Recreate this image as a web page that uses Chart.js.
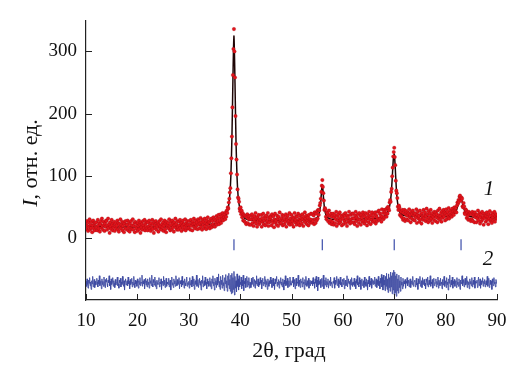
<!DOCTYPE html>
<html>
<head>
<meta charset="utf-8">
<script src="https://cdn.jsdelivr.net/npm/chart.js@4/dist/chart.umd.min.js"></script>
<style>
  html, body { margin: 0; padding: 0; background: #fff; }
  #wrap { width: 525px; height: 371px; }
</style>
</head>
<body>
<div id="wrap"><canvas id="xrd" width="525" height="371"></canvas></div>
<script>
// --- Data ---
// measured pattern: start angle, step, intensities (one row = 4 degrees)
const startAngle = 10;
const stepAngle = 0.1;
const observed = [
  22,14,27,19,11,25,17,30,13,21, 16,26,9,20,28,15,23,12,24,18, 25,17,12,29,20,15,24,10,22,27, 16,31,19,13,26,21,11,23,18,28,
  27,13,20,31,16,22,8,25,18,14, 29,21,12,24,17,26,11,19,23,15, 20,28,13,24,10,22,17,30,15,21, 26,12,19,25,9,23,16,27,14,21,
  21,28,12,17,25,10,22,16,27,14, 20,30,13,19,24,9,26,18,15,23, 11,24,19,28,14,21,8,25,17,22, 13,27,20,16,29,12,23,18,26,15,
  12,25,19,28,15,21,11,24,17,29, 14,22,8,26,20,16,27,13,23,18, 24,10,21,27,15,19,30,13,22,17, 25,11,20,28,14,23,9,26,18,21,
  24,15,30,19,12,26,21,14,28,17, 23,10,25,20,31,16,22,13,27,18, 13,26,20,29,16,23,11,25,19,28, 14,22,17,30,12,24,20,27,15,21,
  16,27,21,13,29,19,24,12,26,22, 31,17,23,15,28,20,25,14,30,21, 27,15,23,32,18,25,13,29,21,26, 16,31,19,24,14,28,22,33,17,25,
  26,15,29,20,31,17,27,22,33,19, 30,18,28,24,35,21,31,26,37,22, 32,27,38,24,34,30,40,28,36,33, 38,30,41,34,44,40,49,47,57,63,
  73,80,104,128,163,210,262,304,336,300, 258,196,151,126,102,78,65,63,58,47, 43,49,38,44,33,40,28,37,27,36, 25,35,22,33,38,24,31,35,21,30,
  36,21,30,38,24,33,19,29,35,26, 40,23,31,18,34,27,37,22,30,25, 29,37,18,32,26,39,22,28,34,20, 31,36,24,27,40,19,33,25,30,35,
  33,20,38,27,24,35,17,30,39,25, 28,21,36,31,19,34,26,41,23,29, 24,32,37,20,28,35,22,30,26,38, 18,33,29,36,23,27,40,21,31,26,
  37,22,27,33,18,31,40,25,29,35, 21,34,26,39,24,30,20,36,28,32, 23,38,30,19,34,27,41,25,31,36, 22,28,33,20,37,26,30,24,39,29,
  25,38,27,36,22,41,30,24,39,28, 43,31,45,37,44,52,56,63,74,84, 93,82,72,60,45,48,46,34,30,41, 39,27,36,44,24,35,28,39,22,34,
  26,39,21,33,37,24,30,42,19,35, 28,38,23,32,41,25,29,36,20,34, 31,22,38,27,35,40,24,30,19,36, 33,26,42,28,23,37,30,25,39,32,
  39,25,31,22,36,42,27,33,19,38, 30,24,40,29,35,21,37,32,26,41, 28,36,23,34,40,27,31,20,38,33, 25,42,30,35,22,37,29,41,26,33,
  26,38,28,41,23,36,33,27,42,30, 44,29,39,31,35,26,46,34,40,30, 45,33,42,38,46,34,48,39,50,47, 44,57,61,58,74,79,99,113,131,138,
  145,130,117,92,76,72,64,50,45,52, 49,37,44,35,42,33,45,29,40,31, 45,27,38,43,30,36,41,28,39,46, 33,37,25,42,31,38,44,29,36,40,
  28,39,33,46,24,37,42,31,35,26, 44,30,38,23,40,34,29,45,32,36, 41,27,35,47,30,38,25,43,33,39, 28,45,31,36,24,40,34,29,42,37,
  27,41,33,38,25,44,31,36,47,29, 35,40,26,43,32,37,45,34,41,28, 39,46,30,37,42,33,48,31,38,44, 36,41,34,47,39,43,37,49,44,42,
  48,41,52,57,55,61,58,66,68,63, 60,65,63,51,49,56,51,40,38,46, 44,32,41,35,29,42,38,30,40,27, 38,30,42,27,36,39,25,41,33,37,
  25,37,31,44,28,35,40,23,33,38, 27,42,30,34,21,39,32,36,26,35, 41,29,34,22,38,31,43,27,36,30, 24,40,33,28,37,42,26,35,31,38,
  31
];

// difference curve (shifted down), same angle grid
const difference = [
  -70,-78,-66,-75,-81,-68,-73,-64,-77,-71, -83,-69,-74,-62,-79,-72,-67,-80,-70,-76, -73,-65,-71,-79,-68,-74,-61,-77,-72,-69, -82,-66,-75,-70,-78,-63,-73,-80,-67,-71,
  -65,-74,-79,-68,-72,-61,-77,-70,-83,-66, -75,-71,-64,-78,-69,-73,-80,-67,-76,-72, -70,-63,-77,-74,-81,-68,-72,-65,-79,-71, -75,-62,-73,-78,-69,-84,-70,-66,-76,-73,
  -69,-77,-63,-74,-70,-82,-67,-75,-72,-65, -79,-71,-76,-62,-73,-80,-68,-74,-70,-78, -66,-72,-81,-69,-75,-64,-77,-71,-73,-60, -78,-70,-74,-67,-82,-72,-65,-76,-69,-79,
  -66,-75,-71,-81,-64,-73,-69,-77,-60,-74, -79,-67,-72,-76,-63,-78,-70,-82,-68,-73, -75,-69,-64,-79,-71,-74,-66,-83,-70,-72, -77,-62,-75,-68,-80,-73,-65,-78,-71,-74,
  -75,-65,-79,-71,-68,-84,-70,-63,-76,-72, -80,-66,-74,-69,-78,-61,-73,-77,-67,-75, -71,-64,-82,-70,-74,-68,-79,-62,-76,-72, -69,-81,-66,-73,-77,-70,-63,-78,-72,-75,
  -70,-81,-64,-76,-72,-68,-79,-62,-74,-77, -66,-83,-71,-69,-75,-60,-78,-73,-67,-80, -72,-65,-76,-70,-84,-68,-73,-61,-79,-74, -69,-77,-63,-75,-71,-82,-66,-74,-70,-78,
  -74,-64,-78,-70,-82,-66,-73,-61,-77,-71, -84,-65,-75,-69,-80,-63,-76,-72,-58,-79, -70,-83,-62,-75,-68,-81,-60,-77,-72,-85, -64,-74,-59,-80,-69,-86,-61,-76,-57,-82,
  -67,-86,-60,-90,-57,-88,-64,-83,-54,-92, -62,-81,-69,-87,-58,-78,-66,-84,-61,-79, -71,-75,-63,-82,-68,-77,-60,-85,-70,-74, -65,-80,-72,-62,-79,-69,-76,-64,-81,-71,
  -72,-80,-65,-75,-70,-63,-78,-73,-67,-81, -69,-74,-61,-77,-72,-66,-79,-71,-76,-64, -73,-68,-82,-70,-65,-77,-71,-74,-62,-79, -67,-75,-70,-83,-66,-72,-78,-69,-74,-63,
  -73,-68,-80,-70,-65,-77,-72,-83,-66,-74, -69,-62,-78,-71,-75,-67,-81,-70,-73,-64, -76,-71,-79,-66,-72,-84,-68,-74,-61,-77, -70,-75,-65,-80,-73,-69,-78,-63,-72,-76,
  -76,-69,-72,-63,-79,-74,-67,-82,-70,-65, -77,-71,-73,-60,-78,-68,-75,-80,-66,-72, -70,-79,-64,-74,-71,-83,-67,-76,-62,-73, -78,-69,-75,-65,-81,-72,-68,-77,-70,-74,
  -69,-77,-64,-74,-71,-81,-66,-73,-62,-79, -68,-85,-63,-76,-70,-74,-67,-80,-72,-65, -78,-71,-60,-82,-73,-68,-76,-64,-79,-70, -75,-66,-81,-72,-69,-77,-63,-74,-71,-80,
  -78,-70,-73,-64,-81,-68,-75,-71,-62,-77, -73,-66,-80,-69,-74,-63,-76,-72,-79,-67, -70,-75,-65,-82,-71,-68,-77,-73,-61,-79, -72,-66,-74,-70,-83,-67,-76,-64,-72,-78,
  -71,-75,-65,-78,-70,-82,-67,-73,-61,-76, -72,-79,-64,-74,-68,-83,-70,-66,-77,-73, -69,-80,-63,-75,-71,-78,-66,-72,-84,-68, -74,-62,-79,-70,-76,-65,-81,-73,-67,-75,
  -69,-74,-63,-78,-71,-66,-80,-68,-75,-62, -77,-70,-82,-65,-73,-59,-79,-64,-84,-60, -76,-68,-85,-62,-78,-57,-83,-66,-88,-58, -80,-64,-86,-55,-79,-61,-90,-56,-84,-52,
  -92,-55,-88,-61,-94,-58,-85,-66,-89,-60, -80,-69,-86,-63,-76,-71,-82,-65,-78,-70, -74,-67,-81,-70,-73,-64,-77,-72,-68,-79, -71,-66,-80,-73,-69,-75,-62,-78,-72,-70,
  -68,-79,-71,-65,-76,-73,-83,-66,-74,-70, -62,-78,-72,-69,-80,-64,-75,-71,-67,-77, -73,-82,-66,-70,-76,-63,-79,-72,-68,-75, -61,-78,-71,-74,-67,-81,-70,-65,-77,-72,
  -73,-66,-79,-70,-75,-63,-81,-68,-72,-77, -65,-74,-71,-82,-67,-76,-70,-62,-78,-73, -69,-80,-64,-75,-71,-84,-66,-73,-60,-79, -72,-68,-76,-63,-81,-70,-74,-67,-78,-71,
  -69,-80,-64,-75,-71,-78,-66,-73,-83,-68, -74,-70,-61,-77,-72,-67,-79,-71,-65,-76, -73,-62,-80,-69,-75,-71,-82,-66,-74,-70, -77,-64,-79,-72,-68,-75,-63,-81,-70,-73,
  -72,-68,-80,-70,-63,-77,-73,-66,-81,-69, -75,-71,-64,-78,-70,-74,-67,-79,-72,-69, -76,-62,-78,-71,-65,-80,-73,-68,-75,-70, -83,-66,-72,-77,-64,-74,-71,-79,-67,-73,
  -74
];

// calculated profile
const fitAngles = [10,12,14,16,18,20,22,24,26,28,30,32,34,35,36,36.6,37,37.2,37.4,37.6,37.8,
  38,38.2,38.4,38.6,38.7,38.8,38.9,39,39.2,39.4,39.6,39.8,40,40.2,40.4,40.6,40.8,41,41.4,42,44,46,48,50,52,53,54,
  54.6,55,55.2,55.4,55.6,55.8,55.9,56,56.1,56.2,56.4,56.6,56.8,57,57.4,58,60,62,64,66,67,68,68.4,68.6,68.8,69,
  69.2,69.4,69.6,69.8,69.9,70,70.1,70.2,70.4,70.6,70.8,71,71.2,71.6,72,74,76,78,80,81,81.4,81.8,82,82.2,82.4,
  82.6,82.8,83,83.2,83.4,83.6,83.8,84,84.2,84.4,84.8,85.4,86,88,90];
const fitIntensity = [19,18.5,18,17.5,17.5,17.5,17.5,17.5,18,18.5,19.5,20.5,21.5,23,26,29,32,35,39,45,54,
  70,100,160,255,300,325,295,250,155,98,68,54,46,41,37,34,32,31,29.5,28.5,28,28,28,28,28.5,29,29.5,
  31,33,35,40,50,70,80,85,79,68,49,40,35,33,31,30,30,30,30.5,31,32,34.5,37,40,43,48,
  56,70,95,125,132,135,126,112,80,60,49,43,40,37,36,35,34.5,34,34.5,35.5,37,40,43,47,53,
  58,62,62,58,52,46,42,39,37,36,34.5,33.5,33,32.5,32];

// Bragg reflection positions
const braggAngles = [38.8, 56.0, 70.0, 83.0];
const braggLevel = -11;

const xTicks = [10, 20, 30, 40, 50, 60, 70, 80, 90];
const yTicks = [0, 100, 200, 300];

// --- Build points ---
const angleAt = i => Math.round((startAngle + i * stepAngle) * 100) / 100;
const obsPoints = observed.map((v, i) => ({ x: angleAt(i), y: v }));
const diffPoints = difference.map((v, i) => ({ x: angleAt(i), y: v }));
const fitPoints = fitAngles.map((a, i) => ({ x: a, y: fitIntensity[i] }));
const braggPoints = braggAngles.map(a => ({ x: a, y: braggLevel }));

const serif = '"Liberation Serif", "DejaVu Serif", serif';

// inward tick marks + text labels
const decorations = {
  id: 'decorations',
  afterDraw(chart) {
    const { ctx, chartArea, scales } = chart;
    const xs = scales.x, ys = scales.y;
    ctx.save();
    ctx.strokeStyle = '#222';
    ctx.lineWidth = 1;
    ctx.beginPath();
    xTicks.forEach(t => {
      const px = Math.round(xs.getPixelForValue(t)) + 0.5;
      ctx.moveTo(px, chartArea.bottom);
      ctx.lineTo(px, chartArea.bottom - 6);
    });
    yTicks.forEach(t => {
      const py = Math.round(ys.getPixelForValue(t)) + 0.5;
      ctx.moveTo(chartArea.left, py);
      ctx.lineTo(chartArea.left + 6, py);
    });
    ctx.stroke();

    ctx.fillStyle = '#111';
    // x title
    ctx.font = '22px ' + serif;
    ctx.textAlign = 'center';
    ctx.textBaseline = 'middle';
    ctx.fillText('2θ, град', 289, 351);

    // y title (rotated), italic I
    ctx.save();
    ctx.translate(31, 163);
    ctx.rotate(-Math.PI / 2);
    ctx.textAlign = 'left';
    const rest = ', отн. ед.';
    ctx.font = 'italic 22px ' + serif;
    const wI = ctx.measureText('I').width;
    ctx.font = '22px ' + serif;
    const wRest = ctx.measureText(rest).width;
    const x0 = -(wI + wRest) / 2;
    ctx.font = 'italic 22px ' + serif;
    ctx.fillText('I', x0, 0);
    ctx.font = '22px ' + serif;
    ctx.fillText(rest, x0 + wI, 0);
    ctx.restore();

    // curve numbers
    ctx.font = 'italic 21px ' + serif;
    ctx.textAlign = 'center';
    ctx.fillText('1', 489, 189);
    ctx.fillText('2', 488, 259);
    ctx.restore();
  }
};

new Chart(document.getElementById('xrd').getContext('2d'), {
  type: 'scatter',
  data: {
    datasets: [
      {
        label: 'difference',
        data: diffPoints,
        showLine: true,
        borderColor: '#3f4ca3',
        borderWidth: 0.9,
        pointRadius: 0
      },
      {
        label: 'observed',
        data: obsPoints,
        showLine: false,
        backgroundColor: '#e2141c',
        borderColor: 'rgba(140,10,15,0.55)',
        borderWidth: 0.4,
        pointRadius: 1.8
      },
      {
        label: 'calculated',
        data: fitPoints,
        showLine: true,
        borderColor: '#1e0505',
        borderWidth: 1.5,
        pointRadius: 0,
        tension: 0.25
      },
      {
        label: 'bragg',
        data: braggPoints,
        showLine: false,
        pointStyle: 'line',
        rotation: 90,
        pointRadius: 5.5,
        borderColor: '#4a5bb0',
        borderWidth: 1.3
      }
    ]
  },
  options: {
    responsive: false,
    animation: false,
    events: [],
    layout: { padding: { top: 20, right: 28, left: 0, bottom: 0 } },
    plugins: { legend: { display: false }, tooltip: { enabled: false } },
    scales: {
      x: {
        type: 'linear',
        min: 10,
        max: 90,
        afterBuildTicks: s => { s.ticks = xTicks.map(v => ({ value: v })); },
        afterFit: s => { s.height = 71; },
        grid: { drawOnChartArea: false, drawTicks: false },
        border: { color: '#222', width: 1.2 },
        ticks: { color: '#111', padding: 10, maxRotation: 0, font: { family: serif, size: 19 } }
      },
      y: {
        type: 'linear',
        min: -100,
        max: 350,
        afterBuildTicks: s => { s.ticks = yTicks.map(v => ({ value: v })); },
        afterFit: s => { s.width = 86; },
        grid: { drawOnChartArea: false, drawTicks: false },
        border: { color: '#222', width: 1.2 },
        ticks: { color: '#111', padding: 9, font: { family: serif, size: 19 } }
      }
    }
  },
  plugins: [decorations]
});
</script>
</body>
</html>
